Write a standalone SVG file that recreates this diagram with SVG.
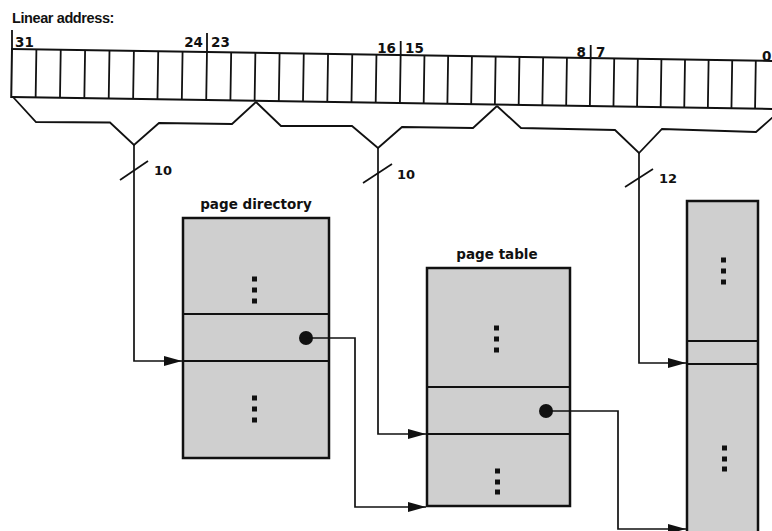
<svg xmlns="http://www.w3.org/2000/svg" width="772" height="531" viewBox="0 0 772 531">
<defs>
<style>
.t{font-family:"DejaVu Sans",Verdana,sans-serif;font-weight:bold;fill:#111}
.ttl{font-family:"Liberation Sans",Arial,sans-serif;font-weight:bold;font-size:14.5px;fill:#111;letter-spacing:-0.4px}
.num{font-size:13.5px}
.bw{font-size:13px}
.reg{fill:#fff;stroke:#111;stroke-width:2}
.cell{stroke:#111;stroke-width:1.8}
.br{fill:none;stroke:#111;stroke-width:1.8;stroke-linejoin:miter}
.box{fill:#cfcfcf;stroke:#111;stroke-width:2.5}
.sep{stroke:#111;stroke-width:2}
.ln{fill:none;stroke:#111;stroke-width:1.7}
.dot{fill:#111}
</style>
<marker id="ah" viewBox="0 0 18 10" refX="18" refY="5" markerWidth="18" markerHeight="10" markerUnits="userSpaceOnUse" orient="auto">
<path d="M0,0 L18,5 L0,10 Z" fill="#111"/>
</marker>
</defs>
<rect width="772" height="531" fill="#fff"/>
<text class="ttl" x="12" y="23">Linear address:</text>
<g id="register">
<g transform="rotate(0.9 12 49)">
<rect class="reg" x="12" y="49" width="790" height="48"/>
<path class="cell" d="M36.4,49V97M60.75,49V97M85.1,49V97M109.5,49V97M133.9,49V97M158.25,49V97M182.6,49V97M207,49V97M231.2,49V97M255.4,49V97M279.6,49V97M303.8,49V97M328.1,49V97M352.3,49V97M376.5,49V97M400.7,49V97M424.5,49V97M448.2,49V97M472,49V97M495.7,49V97M519.5,49V97M543.2,49V97M567,49V97M590.7,49V97M614.3,49V97M637.9,49V97M661.5,49V97M685.1,49V97M708.7,49V97M732.3,49V97M755.9,49V97M779.5,49V97"/>
</g>
<path class="cell" d="M12,30V49M207,33V52M400.7,41V55M590.7,45V58"/>
<text class="t num" x="15" y="47">31</text>
<text class="t num" x="203" y="47" text-anchor="end">24</text>
<text class="t num" x="211" y="47">23</text>
<text class="t num" x="396" y="53" text-anchor="end">16</text>
<text class="t num" x="405" y="53">15</text>
<text class="t num" x="586" y="57" text-anchor="end">8</text>
<text class="t num" x="596" y="57">7</text>
<text class="t num" x="762" y="61">0</text>
</g>
<g id="braces">
<polyline class="br" points="13,97 36,122 110,122.5 134,145 159,123 232,124 256,102"/>
<polyline class="br" points="256,102 281,126 352,126 378,148 402,127 473,128 497,106"/>
<polyline class="br" points="497,106 521,128 615,130 639,153 662,129 756,132 781,110"/>
<line class="ln" x1="120" y1="180" x2="148" y2="161"/>
<line class="ln" x1="363" y1="183" x2="392" y2="164"/>
<line class="ln" x1="625" y1="187" x2="653" y2="169"/>
<text class="t bw" x="154" y="175">10</text>
<text class="t bw" x="397" y="179">10</text>
<text class="t bw" x="659" y="183">12</text>
</g>
<g id="page-directory">
<text class="t num" x="256" y="209" text-anchor="middle">page directory</text>
<rect class="box" x="183" y="218" width="146" height="240"/>
<path class="sep" d="M183,314H329M183,361H329"/>
<g class="dot">
<rect x="252" y="276.5" width="5" height="5"/><rect x="252" y="287.5" width="5" height="5"/><rect x="252" y="298.5" width="5" height="5"/>
<rect x="252" y="395.5" width="5" height="5"/><rect x="252" y="406.5" width="5" height="5"/><rect x="252" y="417.5" width="5" height="5"/>
</g>
<circle class="dot" cx="306" cy="338" r="7"/>
</g>
<g id="page-table">
<text class="t num" x="497" y="259" text-anchor="middle">page table</text>
<rect class="box" x="427" y="268" width="143" height="238"/>
<path class="sep" d="M427,387H570M427,434H570"/>
<g class="dot">
<rect x="494" y="325.5" width="5" height="5"/><rect x="494" y="336.5" width="5" height="5"/><rect x="494" y="347.5" width="5" height="5"/>
<rect x="495" y="468.5" width="5" height="5"/><rect x="495" y="479.5" width="5" height="5"/><rect x="495" y="489.5" width="5" height="5"/>
</g>
<circle class="dot" cx="546" cy="411" r="7"/>
</g>
<g id="page">
<rect class="box" x="687" y="201" width="71" height="340"/>
<path class="sep" d="M687,341H758M687,364H758"/>
<g class="dot">
<rect x="721" y="257.5" width="5" height="5"/><rect x="721" y="268.5" width="5" height="5"/><rect x="721" y="279.5" width="5" height="5"/>
<rect x="722" y="445.5" width="5" height="5"/><rect x="722" y="456.5" width="5" height="5"/><rect x="722" y="466.5" width="5" height="5"/>
</g>
</g>
<g id="connectors">
<polyline class="ln" points="134,145 134,361 182,361" marker-end="url(#ah)"/>
<polyline class="ln" points="378,148 378,434 426,434" marker-end="url(#ah)"/>
<polyline class="ln" points="639,153 639,363 686,363" marker-end="url(#ah)"/>
<polyline class="ln" points="306,338 355,338 355,507 426,507" marker-end="url(#ah)"/>
<polyline class="ln" points="546,411 618,411 618,529 686,529" marker-end="url(#ah)"/>
</g>
</svg>
